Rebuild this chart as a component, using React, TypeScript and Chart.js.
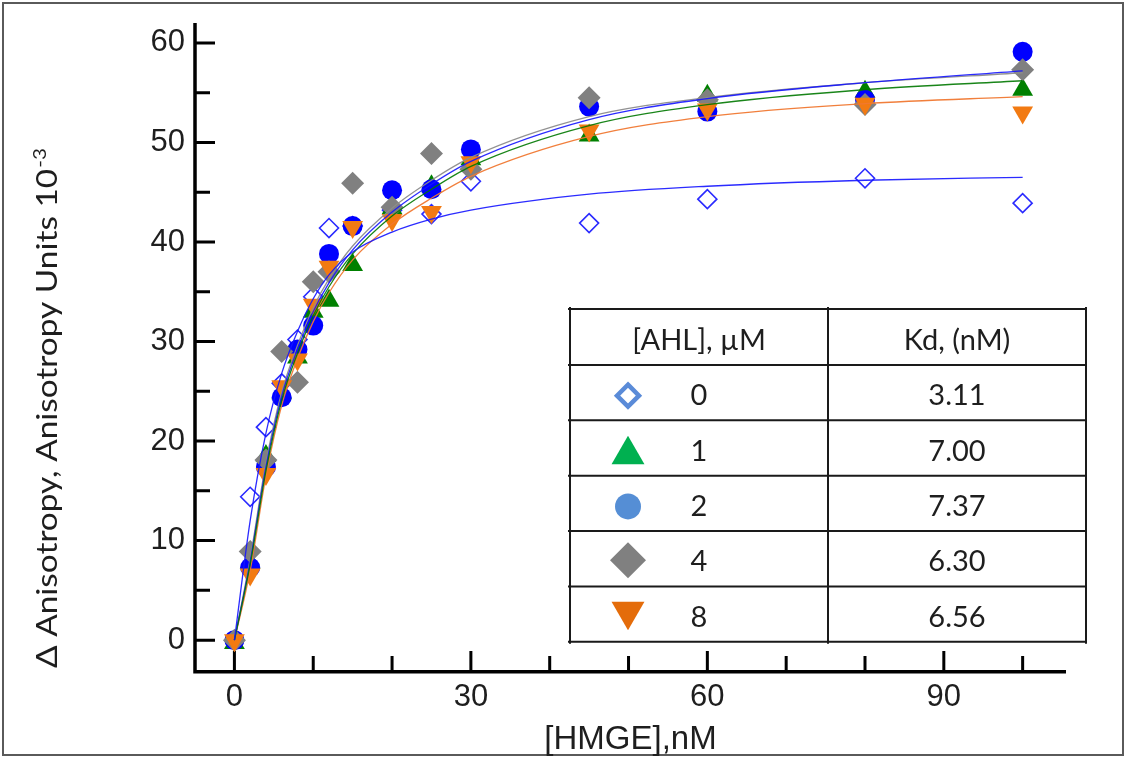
import React, { useEffect, useRef } from 'react';
import { Chart, registerables } from 'chart.js';

Chart.register(...registerables);

// ---------- data ----------
const hmgeNM = [0, 2, 4, 6, 8, 10, 12, 15, 20, 25, 30, 45, 60, 80, 100];

const ahl0 = [0, 14.4, 21.4, 25.8, 30.2, 34.5, 41.4, 41.6, 43.2, 42.8, 46.1, 41.9, 44.3, 46.4, 43.9];
const ahl1 = [-0.3, 7.8, 18.5, 24.8, 28.4, 33.0, 34.1, 37.7, 43.4, 45.6, 48.3, 50.7, 54.7, 55.1, 55.3];
const ahl2 = [0, 7.3, 17.4, 24.4, 29.2, 31.6, 38.8, 41.6, 45.2, 45.3, 49.3, 53.6, 53.1, 54.3, 59.1];
const ahl4 = [0, 8.9, 18.1, 29.0, 25.9, 36.0, 37.0, 45.9, 43.5, 48.9, 47.3, 54.5, 54.3, 53.8, 57.3];
const ahl8 = [0, 6.6, 16.7, 25.5, 28.2, 33.7, 37.5, 41.5, 42.2, 43.0, 48.0, 51.2, 53.3, 53.9, 53.0];

// fitted curves at the same concentrations
const fit0 = [0, 12.0, 20.8, 26.8, 31.0, 34.3, 36.7, 39.0, 41.0, 42.3, 43.2, 44.8, 45.6, 46.2, 46.5];
const fit1 = [0, 7.6, 17.0, 24.1, 28.8, 32.6, 35.5, 38.8, 42.6, 45.3, 47.6, 51.7, 53.8, 55.3, 56.2];
const fit2 = [0, 7.9, 17.4, 24.5, 29.2, 33.0, 35.9, 39.2, 43.0, 45.8, 48.1, 52.3, 54.4, 56.0, 57.2];
const fit4 = [0, 8.2, 17.8, 24.9, 29.6, 33.4, 36.3, 39.6, 43.4, 46.2, 48.5, 52.6, 54.5, 56.0, 57.0];
const fit8 = [0, 7.0, 16.5, 23.6, 28.3, 32.0, 34.9, 38.2, 41.8, 44.4, 46.6, 50.6, 52.6, 53.9, 54.6];

// legend table
const ahlLevels = ['0', '1', '2', '4', '8'];
const kdValues = ['3.11', '7.00', '7.37', '6.30', '6.56'];

// axes ticks
const xMajorTicks = [0, 30, 60, 90];
const xMinorTicks = [10, 20, 40, 50, 70, 80, 100];
const yMajorTicks = [0, 10, 20, 30, 40, 50, 60];
const yMinorTicks = [5, 15, 25, 35, 45, 55];

// ---------- styles ----------
const TICK_FONT = "'Liberation Sans', Arial, sans-serif";
const CAL_FONT = "Lato, 'Noto Sans', sans-serif";
const TEXT_COLOR = '#1e1e1e';

const toXY = (ys: number[]) => hmgeNM.map((x, i) => ({ x, y: ys[i] }));

type Shape = 'diamondOpen' | 'triangle' | 'circle' | 'diamond' | 'triangleDown';

function drawShape(ctx: CanvasRenderingContext2D, shape: Shape, cx: number, cy: number, r: number, color: string) {
  ctx.save();
  ctx.beginPath();
  if (shape === 'circle') {
    ctx.arc(cx, cy, r, 0, Math.PI * 2);
  } else if (shape === 'diamond' || shape === 'diamondOpen') {
    ctx.moveTo(cx, cy - r);
    ctx.lineTo(cx + r, cy);
    ctx.lineTo(cx, cy + r);
    ctx.lineTo(cx - r, cy);
    ctx.closePath();
  } else if (shape === 'triangle') {
    ctx.moveTo(cx, cy - r);
    ctx.lineTo(cx + 0.866 * r, cy + r / 2);
    ctx.lineTo(cx - 0.866 * r, cy + r / 2);
    ctx.closePath();
  } else {
    ctx.moveTo(cx, cy + r);
    ctx.lineTo(cx + 0.866 * r, cy - r / 2);
    ctx.lineTo(cx - 0.866 * r, cy - r / 2);
    ctx.closePath();
  }
  if (shape === 'diamondOpen') {
    ctx.lineWidth = 4.5;
    ctx.strokeStyle = color;
    ctx.lineJoin = 'miter';
    ctx.stroke();
  } else {
    ctx.fillStyle = color;
    ctx.fill();
  }
  ctx.restore();
}

const tableShapes: { shape: Shape; r: number; color: string; dy: number }[] = [
  { shape: 'diamondOpen', r: 11, color: '#5a8bd8', dy: 3 },
  { shape: 'triangle', r: 19, color: '#00b050', dy: 2 + 19 / 4 },
  { shape: 'circle', r: 13, color: '#558ed5', dy: 3 },
  { shape: 'diamond', r: 18, color: '#808080', dy: 1.5 },
  { shape: 'triangleDown', r: 19, color: '#e46c0a', dy: 2 - 19 / 4 },
];

const decorPlugin = {
  id: 'decor',
  beforeDraw(chart: any) {
    const ctx: CanvasRenderingContext2D = chart.ctx;
    ctx.save();
    ctx.fillStyle = '#ffffff';
    ctx.fillRect(0, 0, chart.width, chart.height);
    ctx.strokeStyle = '#5a5a5a';
    ctx.lineWidth = 2;
    ctx.strokeRect(3, 3, chart.width - 6, chart.height - 5);
    ctx.restore();
  },
  beforeDatasetsDraw(chart: any) {
    const ctx: CanvasRenderingContext2D = chart.ctx;
    const { left, right, top, bottom } = chart.chartArea;
    const xs = chart.scales.x;
    const ys = chart.scales.y;
    ctx.save();
    ctx.strokeStyle = '#000';
    ctx.lineCap = 'butt';
    // axis lines
    ctx.lineWidth = 3.5;
    ctx.beginPath();
    ctx.moveTo(left, top);
    ctx.lineTo(left, bottom + 1.75);
    ctx.lineTo(right, bottom + 1.75);
    ctx.stroke();
    // ticks
    ctx.lineWidth = 3;
    ctx.beginPath();
    xMajorTicks.forEach((v) => {
      const px = xs.getPixelForValue(v);
      ctx.moveTo(px, bottom);
      ctx.lineTo(px, bottom - 19);
    });
    xMinorTicks.forEach((v) => {
      const px = xs.getPixelForValue(v);
      ctx.moveTo(px, bottom);
      ctx.lineTo(px, bottom - 14);
    });
    yMajorTicks.forEach((v) => {
      const py = ys.getPixelForValue(v);
      ctx.moveTo(left, py);
      ctx.lineTo(left + 20, py);
    });
    yMinorTicks.forEach((v) => {
      const py = ys.getPixelForValue(v);
      ctx.moveTo(left, py);
      ctx.lineTo(left + 15, py);
    });
    ctx.stroke();
    ctx.restore();
  },
  afterDraw(chart: any) {
    const ctx: CanvasRenderingContext2D = chart.ctx;
    const { left, right } = chart.chartArea;
    ctx.save();
    ctx.fillStyle = TEXT_COLOR;

    // x title
    ctx.font = `33px ${TICK_FONT}`;
    ctx.textAlign = 'center';
    ctx.textBaseline = 'alphabetic';
    ctx.fillText('[HMGE],nM', (left + right) / 2, 749);

    // y title (rotated) with superscript
    const ySize = 28;
    const main = 'Δ Anisotropy, Anisotropy Units 10';
    const sup = '-3';
    ctx.font = `${ySize}px ${CAL_FONT}`;
    const wm = ctx.measureText(main).width;
    ctx.font = `${ySize * 0.62}px ${CAL_FONT}`;
    const ws = ctx.measureText(sup).width;
    const targetLen = 520;
    const sx = targetLen / (wm + ws + 1);
    ctx.save();
    ctx.translate(57, 668);
    ctx.rotate(-Math.PI / 2);
    ctx.scale(sx, 1);
    ctx.textAlign = 'left';
    ctx.font = `${ySize}px ${CAL_FONT}`;
    ctx.fillText(main, 0, 0);
    ctx.font = `${ySize * 0.62}px ${CAL_FONT}`;
    ctx.fillText(sup, wm + 1, -ySize * 0.4);
    ctx.restore();

    // legend table
    const tL = 570, tM = 828, tR = 1086, tTop = 309, headH = 56, rowH = 55.35;
    const nRows = ahlLevels.length;
    const tBottom = tTop + headH + rowH * nRows;
    ctx.strokeStyle = '#1a1a1a';
    ctx.lineWidth = 2;
    ctx.beginPath();
    [tL, tM, tR].forEach((x) => {
      ctx.moveTo(x, tTop - 2);
      ctx.lineTo(x, tBottom + 2);
    });
    for (let i = 0; i <= nRows + 1; i++) {
      const y = i === 0 ? tTop : tTop + headH + rowH * (i - 1);
      ctx.moveTo(tL - 2, y);
      ctx.lineTo(tR, y);
    }
    ctx.stroke();

    const c1 = (tL + tM) / 2;
    const c2 = (tM + tR) / 2;
    ctx.font = `29px ${CAL_FONT}`;
    ctx.textAlign = 'center';
    ctx.textBaseline = 'alphabetic';
    ctx.fillStyle = TEXT_COLOR;
    const headC = tTop + headH / 2;
    ctx.fillText('[AHL], µM', c1, headC + 12.5);
    ctx.fillText('Kd, (nM)', c2, headC + 12.5);
    for (let i = 0; i < nRows; i++) {
      const rc = tTop + headH + rowH * i + rowH / 2;
      ctx.fillStyle = TEXT_COLOR;
      ctx.fillText(ahlLevels[i], c1, rc + 12.5);
      ctx.fillText(kdValues[i], c2, rc + 12.5);
      const s = tableShapes[i];
      drawShape(ctx, s.shape, 628, rc + s.dy, s.r, s.color);
    }
    ctx.restore();
  },
};

export default function App() {
  const canvasRef = useRef<HTMLCanvasElement | null>(null);

  useEffect(() => {
    document.body.style.margin = '0';
    const canvas = canvasRef.current;
    if (!canvas) return;

    const lineDs = (data: number[], color: string) => ({
      type: 'line' as const,
      data: toXY(data),
      borderColor: color,
      borderWidth: 1.3,
      pointRadius: 0,
      fill: false,
      cubicInterpolationMode: 'monotone' as const,
      order: 0,
    });

    const chart = new Chart(canvas, {
      type: 'scatter',
      data: {
        datasets: [
          lineDs(fit0, 'rgba(20,20,255,0.9)'),
          lineDs(fit1, 'rgba(0,120,0,0.9)'),
          lineDs(fit2, 'rgba(20,20,255,0.9)'),
          lineDs(fit4, 'rgba(140,140,140,0.95)'),
          lineDs(fit8, 'rgba(240,120,50,0.95)'),
          {
            type: 'scatter',
            data: toXY(ahl8),
            pointStyle: 'triangle',
            rotation: 180,
            pointRadius: 12,
            backgroundColor: '#f27a12',
            borderColor: '#f27a12',
            borderWidth: 0,
            order: 1,
          },
          {
            type: 'scatter',
            data: toXY(ahl4),
            pointStyle: 'rectRot',
            pointRadius: 11.5,
            backgroundColor: '#808080',
            borderColor: '#808080',
            borderWidth: 0,
            order: 2,
          },
          {
            type: 'scatter',
            data: toXY(ahl2),
            pointStyle: 'circle',
            pointRadius: 10,
            backgroundColor: '#0000ff',
            borderColor: '#0000ff',
            borderWidth: 0,
            order: 3,
          },
          {
            type: 'scatter',
            data: toXY(ahl1),
            pointStyle: 'triangle',
            pointRadius: 12,
            backgroundColor: '#008000',
            borderColor: '#008000',
            borderWidth: 0,
            order: 4,
          },
          {
            type: 'scatter',
            data: toXY(ahl0),
            pointStyle: 'rectRot',
            pointRadius: 9.5,
            backgroundColor: 'rgba(255,255,255,0)',
            borderColor: '#2a2aff',
            borderWidth: 1.6,
            order: 5,
          },
        ] as any,
      },
      options: {
        animation: false,
        responsive: false,
        devicePixelRatio: 1,
        layout: { padding: { left: 0, top: 23, right: 60, bottom: 0 } },
        plugins: {
          legend: { display: false },
          tooltip: { enabled: false },
          title: { display: false },
        },
        scales: {
          x: {
            type: 'linear',
            min: -5,
            max: 105.5,
            grid: { display: false, drawTicks: false },
            border: { display: false },
            ticks: {
              font: { family: TICK_FONT, size: 31 },
              color: TEXT_COLOR,
              padding: 9,
              autoSkip: false,
              maxRotation: 0,
            },
            afterBuildTicks: (s: any) => {
              s.ticks = xMajorTicks.map((v) => ({ value: v }));
            },
            afterFit: (s: any) => {
              s.height = 87;
              s.paddingLeft = 0;
              s.paddingRight = 0;
            },
          },
          y: {
            type: 'linear',
            min: -3,
            max: 62,
            grid: { display: false, drawTicks: false },
            border: { display: false },
            ticks: {
              font: { family: TICK_FONT, size: 31 },
              color: TEXT_COLOR,
              padding: 10,
              autoSkip: false,
            },
            afterBuildTicks: (s: any) => {
              s.ticks = yMajorTicks.map((v) => ({ value: v }));
            },
            afterFit: (s: any) => {
              s.width = 195;
              s.paddingTop = 0;
              s.paddingBottom = 0;
            },
          },
        },
      } as any,
      plugins: [decorPlugin],
    });

    return () => {
      chart.destroy();
    };
  }, []);

  return (
    <div style={{ width: 1126, height: 757, position: 'relative' }}>
      <canvas ref={canvasRef} width={1126} height={757} style={{ display: 'block' }} />
    </div>
  );
}
